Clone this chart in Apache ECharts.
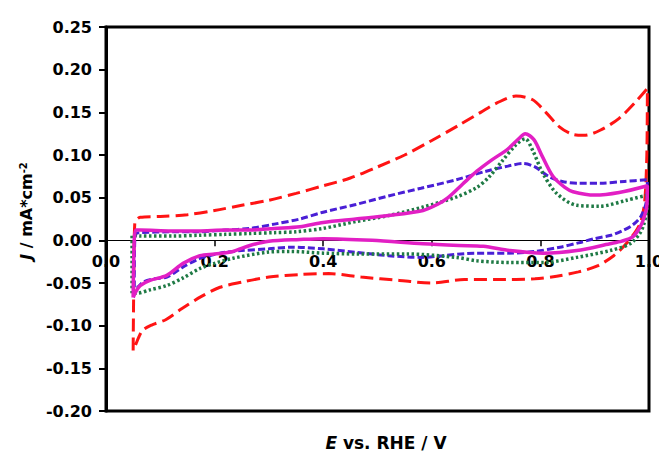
<!DOCTYPE html>
<html>
<head>
<meta charset="utf-8">
<script src="https://cdn.jsdelivr.net/npm/echarts@6/dist/echarts.min.js"></script>
<style>
html,body{margin:0;padding:0;background:#fff;}
#chart{width:659px;height:452px;}
</style>
</head>
<body>
<div id="chart"></div>
<script>
// Potential (V vs RHE) and current density (mA cm^-2), closed CV loops
var redE = [0.050,0.051,0.053,0.063,0.10,0.15,0.20,0.25,0.30,0.35,0.40,0.45,0.50,0.55,0.60,0.65,0.69,0.72,0.755,0.785,0.81,0.835,0.86,0.88,0.91,0.945,0.975,0.997,
            0.996,0.992,0.985,0.975,0.955,0.935,0.905,0.87,0.83,0.79,0.72,0.66,0.60,0.54,0.47,0.41,0.36,0.30,0.25,0.21,0.175,0.14,0.11,0.085,0.068,0.06,0.053,0.050];
var redJ = [-0.129,-0.06,0.020,0.027,0.028,0.030,0.035,0.041,0.047,0.055,0.064,0.073,0.086,0.100,0.117,0.135,0.150,0.161,0.169,0.165,0.150,0.133,0.124,0.123,0.129,0.143,0.162,0.178,
            0.10,0.045,0.022,0.010,-0.006,-0.018,-0.030,-0.037,-0.042,-0.045,-0.046,-0.046,-0.050,-0.047,-0.043,-0.039,-0.040,-0.043,-0.049,-0.055,-0.066,-0.080,-0.093,-0.099,-0.105,-0.114,-0.125,-0.129];

var blueE = [0.052,0.053,0.056,0.063,0.12,0.17,0.22,0.265,0.31,0.357,0.40,0.46,0.52,0.58,0.645,0.70,0.74,0.768,0.79,0.815,0.84,0.87,0.91,0.955,0.997,
             0.995,0.985,0.97,0.95,0.93,0.90,0.87,0.836,0.79,0.74,0.68,0.62,0.58,0.52,0.46,0.40,0.34,0.30,0.25,0.22,0.19,0.17,0.14,0.112,0.09,0.068,0.057,0.052];
var blueJ = [-0.055,0.0,0.008,0.009,0.010,0.010,0.012,0.014,0.019,0.025,0.033,0.042,0.052,0.061,0.071,0.081,0.087,0.090,0.086,0.075,0.069,0.067,0.067,0.069,0.071,
             0.045,0.028,0.018,0.011,0.006,0.002,-0.003,-0.008,-0.013,-0.015,-0.015,-0.018,-0.020,-0.018,-0.014,-0.010,-0.008,-0.010,-0.012,-0.014,-0.018,-0.022,-0.032,-0.043,-0.045,-0.049,-0.055,-0.055];

var greenE = [0.048,0.048,0.048,0.063,0.12,0.173,0.22,0.265,0.31,0.35,0.40,0.46,0.52,0.584,0.646,0.683,0.705,0.731,0.755,0.772,0.786,0.805,0.83,0.867,0.91,0.959,0.997,
              0.996,0.99,0.983,0.965,0.928,0.867,0.805,0.744,0.683,0.646,0.554,0.462,0.40,0.34,0.296,0.234,0.20,0.173,0.142,0.112,0.081,0.057,0.048];
var greenJ = [-0.062,-0.02,0.006,0.005,0.005,0.006,0.007,0.008,0.009,0.010,0.014,0.022,0.029,0.039,0.051,0.062,0.074,0.094,0.112,0.119,0.105,0.078,0.055,0.041,0.040,0.047,0.053,
              0.035,0.018,0.008,-0.004,-0.012,-0.020,-0.026,-0.026,-0.024,-0.020,-0.016,-0.016,-0.015,-0.013,-0.014,-0.021,-0.027,-0.033,-0.044,-0.053,-0.058,-0.062,-0.062];

var pinkE = [0.050,0.052,0.055,0.063,0.12,0.17,0.22,0.265,0.31,0.357,0.40,0.46,0.52,0.584,0.61,0.63,0.657,0.683,0.71,0.74,0.76,0.772,0.788,0.803,0.823,0.845,0.86,0.90,0.945,0.997,
             0.996,0.99,0.983,0.97,0.95,0.928,0.867,0.805,0.744,0.695,0.65,0.584,0.49,0.40,0.357,0.30,0.265,0.234,0.20,0.173,0.142,0.112,0.081,0.063,0.055,0.050];
var pinkJ = [-0.067,0.0,0.012,0.012,0.011,0.011,0.012,0.012,0.014,0.016,0.021,0.025,0.029,0.035,0.042,0.050,0.066,0.081,0.094,0.107,0.119,0.125,0.118,0.099,0.075,0.062,0.057,0.053,0.056,0.064,
             0.040,0.025,0.015,0.004,-0.001,-0.004,-0.012,-0.015,-0.012,-0.007,-0.006,-0.004,0.000,0.002,0.001,-0.001,-0.006,-0.013,-0.016,-0.018,-0.027,-0.041,-0.047,-0.053,-0.060,-0.067];

var xTicks = [0.0, 0.2, 0.4, 0.6, 0.8, 1.0];
var yTicks = [-0.20,-0.15,-0.10,-0.05,0.00,0.05,0.10,0.15,0.20,0.25];

function pairs(e, j){ return e.map(function(v,i){ return [v, j[i]]; }); }

var FONT = 'DejaVu Sans';
var GRID_TOP = 27, GRID_BOTTOM = 41, H = 452;
var plotH = H - GRID_TOP - GRID_BOTTOM;
var yMin = yTicks[0], yMax = yTicks[yTicks.length-1];
// shift the x axis (line, ticks, labels) from the grid bottom up to J = 0
var zeroOffset = -plotH * (0 - yMin) / (yMax - yMin);

var chart = echarts.init(document.getElementById('chart'), null, {renderer:'svg'});
var labelStyle = {color:'#000', fontFamily:FONT, fontWeight:'bold', fontSize:16};

function cv(name, e, j, color, type, width){
  return {
    name:name, type:'line', data:pairs(e,j), smooth:0.3, symbol:'none',
    lineStyle:{color:color, width:width, type:type, cap:'butt'},
    animation:false
  };
}

chart.setOption({
  animation:false,
  grid:{left:106, right:10, top:GRID_TOP, bottom:GRID_BOTTOM, show:true, borderColor:'#000', borderWidth:3,
        backgroundColor:'transparent', containLabel:false, outerBoundsMode:'none'},
  xAxis:[{
    type:'value', min:xTicks[0], max:xTicks[xTicks.length-1], interval:0.2,
    position:'bottom', offset:zeroOffset,
    axisLine:{onZero:false, lineStyle:{color:'#000', width:1}},
    axisTick:{show:true, inside:false, length:6, lineStyle:{color:'#000', width:1.5}},
    axisLabel:Object.assign({margin:13, formatter:function(v){return v.toFixed(1);}}, labelStyle),
    splitLine:{show:false}
  },{
    type:'value', min:xTicks[0], max:xTicks[xTicks.length-1], interval:0.2,
    position:'bottom',
    axisLine:{show:false}, axisTick:{show:false}, axisLabel:{show:false}, splitLine:{show:false},
    name:'{i|E} vs. RHE / V', nameLocation:'middle', nameGap:23,
    nameTextStyle:{color:'#000', fontFamily:FONT, fontWeight:'bold', fontSize:17, padding:[0,0,0,17],
      rich:{i:{fontStyle:'italic', fontFamily:FONT, fontWeight:'bold', fontSize:17, color:'#000'}}}
  }],
  yAxis:{
    type:'value', min:yMin, max:yMax, interval:0.05,
    axisLine:{show:true, onZero:false, lineStyle:{color:'#000', width:3}},
    axisTick:{show:true, inside:false, length:7, lineStyle:{color:'#000', width:2}},
    axisLabel:Object.assign({margin:14, formatter:function(v){return v.toFixed(2);}}, labelStyle),
    splitLine:{show:false},
    name:'{i|J} / mA*cm{s|-2}', nameLocation:'middle', nameRotate:90, nameGap:72,
    nameTextStyle:{color:'#000', fontFamily:FONT, fontWeight:'bold', fontSize:16, padding:[0,0,0,16],
      rich:{i:{fontStyle:'italic', fontFamily:FONT, fontWeight:'bold', fontSize:16, color:'#000'},
            s:{fontFamily:FONT, fontWeight:'bold', fontSize:10, color:'#000', verticalAlign:'top', lineHeight:10}}}
  },
  series:[
    cv('red', redE, redJ, '#ff1414', [13,6], 3),
    cv('blue', blueE, blueJ, '#4a1fd6', [7,3], 3),
    cv('green', greenE, greenJ, '#1f7a45', [2.5,2.5], 3.5),
    cv('magenta', pinkE, pinkJ, '#e21fc4', 'solid', 3.5)
  ]
});
</script>
</body>
</html>
